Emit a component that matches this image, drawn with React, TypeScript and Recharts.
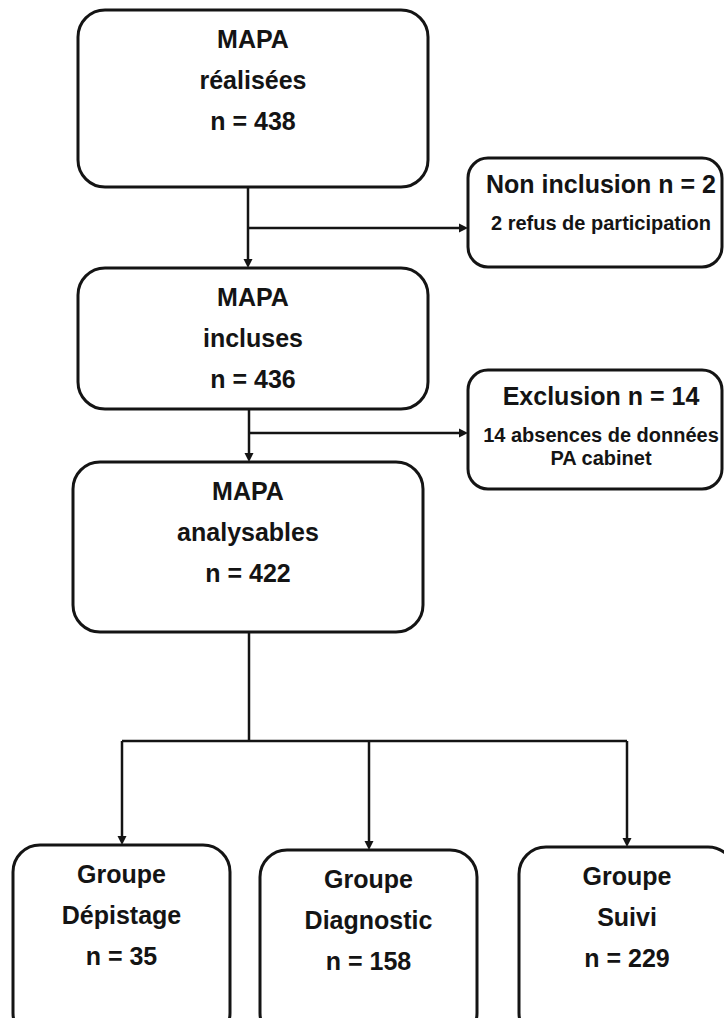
import React from 'react';
import { ScatterChart, Scatter, XAxis, YAxis, ReferenceArea, ReferenceLine } from 'recharts';

// flow values
const mainTitles = ['MAPA', 'MAPA', 'MAPA'];
const mainStages = ['réalisées', 'incluses', 'analysables'];
const mainCounts = [438, 436, 422];
const removedTitles = ['Non inclusion', 'Exclusion'];
const removedCounts = [2, 14];
const removedReasons = [['2 refus de participation'], ['14 absences de données', 'PA cabinet']];
const groupNames = ['Dépistage', 'Diagnostic', 'Suivi'];
const groupCounts = [35, 158, 229];

// layout, in chart units (1 unit = 1px)
const mainBoxes = [
  { x1: 78, x2: 428, y1: 10, y2: 187 },
  { x1: 78, x2: 428, y1: 268, y2: 409 },
  { x1: 73, x2: 423, y1: 462, y2: 632 },
];
const sideBoxes = [
  { x1: 468, x2: 722, y1: 158, y2: 267 },
  { x1: 468, x2: 722, y1: 370, y2: 489 },
];
const groupBoxes = [
  { x1: 13, x2: 230, y1: 845, y2: 1040 },
  { x1: 260, x2: 477, y1: 850, y2: 1040 },
  { x1: 519, x2: 735, y1: 847, y2: 1040 },
];
const links = [
  [{ x: 248, y: 187 }, { x: 248, y: 262 }],
  [{ x: 248, y: 228 }, { x: 462, y: 228 }],
  [{ x: 249, y: 409 }, { x: 249, y: 456 }],
  [{ x: 249, y: 433 }, { x: 462, y: 433 }],
  [{ x: 249, y: 632 }, { x: 249, y: 741 }],
  [{ x: 122, y: 741 }, { x: 627, y: 741 }],
  [{ x: 122, y: 741 }, { x: 122, y: 839 }],
  [{ x: 369, y: 741 }, { x: 369, y: 844 }],
  [{ x: 627, y: 741 }, { x: 627, y: 841 }],
];
const arrowTips = [
  { x: 248, y: 268, dir: 'down' },
  { x: 468, y: 228, dir: 'right' },
  { x: 249, y: 462, dir: 'down' },
  { x: 468, y: 433, dir: 'right' },
  { x: 122, y: 845, dir: 'down' },
  { x: 369, y: 850, dir: 'down' },
  { x: 627, y: 847, dir: 'down' },
];

const FONT = '"Liberation Sans", Arial, Helvetica, sans-serif';
const INK = '#141414';
const BIG = 25;
const SMALL = 20;

type Line = { text: string; size: number; dy: number };

const boxShape = (lines: Line[], radius: number, shift = 0) => (props: any) => {
  const { x, y, width, height } = props;
  return (
    <g>
      <rect x={x} y={y} width={width} height={height} rx={radius} ry={radius}
        fill="#fff" stroke={INK} strokeWidth={3} />
      {lines.map((l, i) => (
        <text key={i} x={x + width / 2 + shift} y={y + l.dy} dy="0.35em" textAnchor="middle"
          fontFamily={FONT} fontWeight={700} fontSize={l.size} fill={INK}>
          {l.text}
        </text>
      ))}
    </g>
  );
};

const ArrowHead = (props: any) => {
  const { cx, cy, payload } = props;
  const p = payload.dir === 'down'
    ? `${cx - 4.5},${cy - 9} ${cx + 4.5},${cy - 9} ${cx},${cy}`
    : `${cx - 9},${cy - 4.5} ${cx - 9},${cy + 4.5} ${cx},${cy}`;
  return <polygon points={p} fill={INK} />;
};

const FlowChart = () => {
  return (
    <div style={{ position: 'absolute', left: 0, top: 0 }}>
      <ScatterChart width={724} height={1018} margin={{ top: 0, right: 0, bottom: 0, left: 0 }}>
        <XAxis type="number" dataKey="x" domain={[0, 724]} hide />
        <YAxis type="number" dataKey="y" domain={[0, 1018]} reversed hide />
        {links.map((seg, i) => (
          <ReferenceLine key={`l${i}`} segment={seg} stroke={INK} strokeWidth={2.5} ifOverflow="visible" />
        ))}
        {mainBoxes.map((b, i) => (
          <ReferenceArea key={`m${i}`} {...b} ifOverflow="visible"
            shape={boxShape([
              { text: mainTitles[i], size: BIG, dy: 29 },
              { text: mainStages[i], size: BIG, dy: 70 },
              { text: `n = ${mainCounts[i]}`, size: BIG, dy: 111 },
            ], 27)} />
        ))}
        {sideBoxes.map((b, i) => (
          <ReferenceArea key={`s${i}`} {...b} ifOverflow="visible"
            shape={boxShape([
              { text: `${removedTitles[i]} n = ${removedCounts[i]}`, size: BIG, dy: 26 },
              ...removedReasons[i].map((r, j) => ({ text: r, size: SMALL, dy: 65 + j * 23 })),
            ], 20, 6)} />
        ))}
        {groupBoxes.map((b, i) => (
          <ReferenceArea key={`g${i}`} {...b} ifOverflow="visible"
            shape={boxShape([
              { text: 'Groupe', size: BIG, dy: 29 },
              { text: groupNames[i], size: BIG, dy: 70 },
              { text: `n = ${groupCounts[i]}`, size: BIG, dy: 111 },
            ], 27)} />
        ))}
        <Scatter data={arrowTips} shape={ArrowHead} isAnimationActive={false} />
      </ScatterChart>
    </div>
  );
};

export default FlowChart;
